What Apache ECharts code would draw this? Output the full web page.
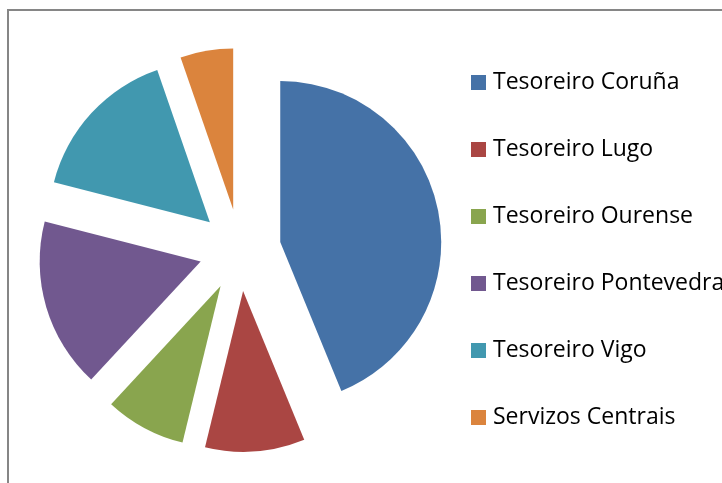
<!DOCTYPE html>
<html>
<head>
<meta charset="utf-8">
<script src="https://cdn.jsdelivr.net/npm/echarts@6/dist/echarts.min.js"></script>
<style>
	html, body { margin: 0; padding: 0; background: #fff; }
	#chart { width: 722px; height: 483px; }
</style>
</head>
<body>
<div id="chart"></div>
<script>
// datos leidos do grafico (porcentaxe aprox.)
var categorias = ['Tesoreiro Coruña', 'Tesoreiro Lugo', 'Tesoreiro Ourense', 'Tesoreiro Pontevedra', 'Tesoreiro Vigo', 'Servizos Centrais'];
var valores = [43.8, 10.0, 8.1, 17.1, 15.7, 5.3];
var cores = ['#4572A7', '#AA4643', '#89A54E', '#71588F', '#4198AF', '#DB843D'];

var datos = categorias.map(function(nome, i) {
	return {
		name: nome,
		value: valores[i],
		selected: true, // todas as porcions separadas
		itemStyle: { color: cores[i] }
	};
});

echarts.init(document.getElementById('chart')).setOption({
	animation: false,
	graphic: [{
		type: 'rect',
		shape: { x: 8, y: 10, width: 800, height: 600 },
		style: { fill: 'none', stroke: '#868686', lineWidth: 2 },
		silent: true
	}],
	legend: {
		orient: 'vertical',
		left: 471,
		top: 71,
		padding: 0,
		icon: 'rect',
		itemWidth: 15,
		itemHeight: 15,
		itemGap: 44,
		textStyle: {
			fontFamily: 'Open Sans',
			fontSize: 23,
			lineHeight: 23,
			color: '#000',
			padding: [0, 0, 0, 2]
		},
		data: categorias,
		selectedMode: false
	},
	series: [{
		type: 'pie',
		center: [240, 250],
		radius: 161,
		startAngle: 90,
		clockwise: true,
		selectedMode: 'multiple',
		selectedOffset: 41,
		label: { show: false },
		labelLine: { show: false },
		emphasis: { disabled: true },
		select: { itemStyle: { borderWidth: 0 } },
		data: datos
	}]
});
</script>
</body>
</html>
